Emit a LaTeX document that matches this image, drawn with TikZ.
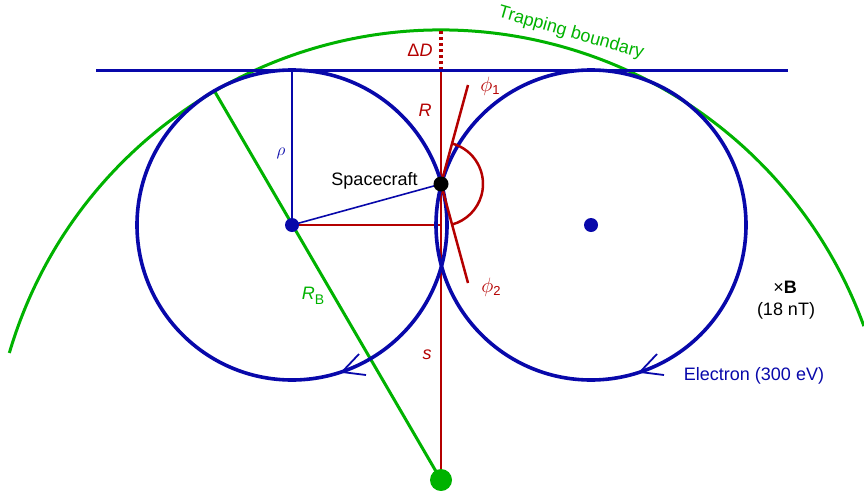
\documentclass[tikz,border=0pt]{standalone}
\usepackage{fontspec}
\setmainfont{Liberation Sans}
\usetikzlibrary{calc}
\definecolor{cblue}{RGB}{8,8,170}
\definecolor{cred}{RGB}{180,0,0}
\definecolor{cgreen}{RGB}{0,178,0}
\tikzset{
  circ/.style={draw=cblue, line width=3.6pt},
  thinblue/.style={draw=cblue, line width=1.6pt},
  redline/.style={draw=cred, line width=2.5pt},
  thinred/.style={draw=cred, line width=1.6pt},
  greenline/.style={draw=cgreen, line width=3pt},
  arrowv/.style={draw=cblue, line width=1.8pt},
  lbl/.style={font=\fontsize{18}{21}\selectfont, inner sep=0pt},
}
\begin{document}
\begin{tikzpicture}[x=1pt,y=-1pt]
\useasboundingbox (0,0) rectangle (864,490);
\clip (0,0) rectangle (864,490);
\coordinate (cL) at (292,225);
\coordinate (cR) at (591,225);
\coordinate (gc) at (441,480);
\coordinate (lineL) at (96,70);
\coordinate (lineR) at (788,70);
\coordinate (top) at (441,70);
\coordinate (dtop) at (441,30);
\coordinate (rhoTop) at (292,70);
\coordinate (foot) at (441,225);
\coordinate (phiA) at (468,85);
\coordinate (phiB) at (468,283);
\coordinate (gEnd) at (215,92);
% trapping boundary
\draw[greenline] (gc) ++(196.4:450) arc[start angle=196.4, end angle=340, radius=450];
\draw[greenline] (gc) -- (gEnd);
% red vertical
\draw[redline] (gc) -- (top);
\draw[draw=cred, line width=3.2pt, dash pattern=on 3pt off 3pt] (top) -- (dtop);
\draw[thinred] (cL) -- (foot);
% circles
\draw[circ] (cL) circle[radius=155];
\draw[circ] (cR) circle[radius=155];
\draw[draw=cblue, line width=3pt] (lineL) -- (lineR);
\draw[thinblue] (cL) -- (rhoTop);
\coordinate (scpos) at (441,184);
\draw[thinblue] (cL) -- (scpos);
% arrowheads
\coordinate (tipL) at (342,372);
\coordinate (tipR) at (640,372);
\draw[arrowv] ($(tipL)+(17,-18)$) -- (tipL) -- ($(tipL)+(24,3)$);
\draw[arrowv] ($(tipR)+(17,-18)$) -- (tipR) -- ($(tipR)+(24,3)$);
% phi lines and arc
\draw[redline] (scpos) -- (phiA);
\draw[redline] (scpos) -- (phiB);
\draw[redline] (scpos) ++(-74.7:42) arc[start angle=-74.7, end angle=74.7, radius=42];
% dots
\node[circle, fill=black, minimum size=15pt, inner sep=0pt] (sc) at (scpos) {};
\node[circle, fill=cblue, minimum size=14pt, inner sep=0pt] (dL) at (cL) {};
\node[circle, fill=cblue, minimum size=14pt, inner sep=0pt] (dR) at (cR) {};
\node[circle, fill=cgreen, minimum size=22pt, inner sep=0pt] (gd) at (gc) {};
% labels
\node[lbl, text=cgreen, rotate=-16] (tb) at (571,33) {Trapping boundary};
\node[lbl, text=cred] (dD) at (420,50) {Δ\textit{D}};
\node[lbl, text=cred] (lR) at (425,110) {\textit{R}};
\node[lbl, text=cred] (p1) at (490,86) {\fontsize{20}{22}\selectfont$\phi$\raisebox{-3pt}{\fontsize{13}{15}\selectfont 1}};
\node[lbl, text=cred] (p2) at (491,287) {\fontsize{20}{22}\selectfont$\phi$\raisebox{-3pt}{\fontsize{13}{15}\selectfont 2}};
\node[lbl, text=cblue] (rho) at (281,153) {$\rho$};
\node[lbl, text=black] (scl) at (374.5,181) {Spacecraft};
\node[lbl, text=cgreen] (RB) at (313,296) {\textit{R}\raisebox{-5pt}{\fontsize{14}{16}\selectfont B}};
\node[lbl, text=cred] (sl) at (427,355) {\textit{s}};
\node[lbl] (Bl) at (785,287) {×\textbf{B}};
\node[lbl] (nT) at (786,311) {(18 nT)};
\node[lbl, text=cblue] (el) at (754,376) {Electron (300 eV)};
\end{tikzpicture}
\end{document}
